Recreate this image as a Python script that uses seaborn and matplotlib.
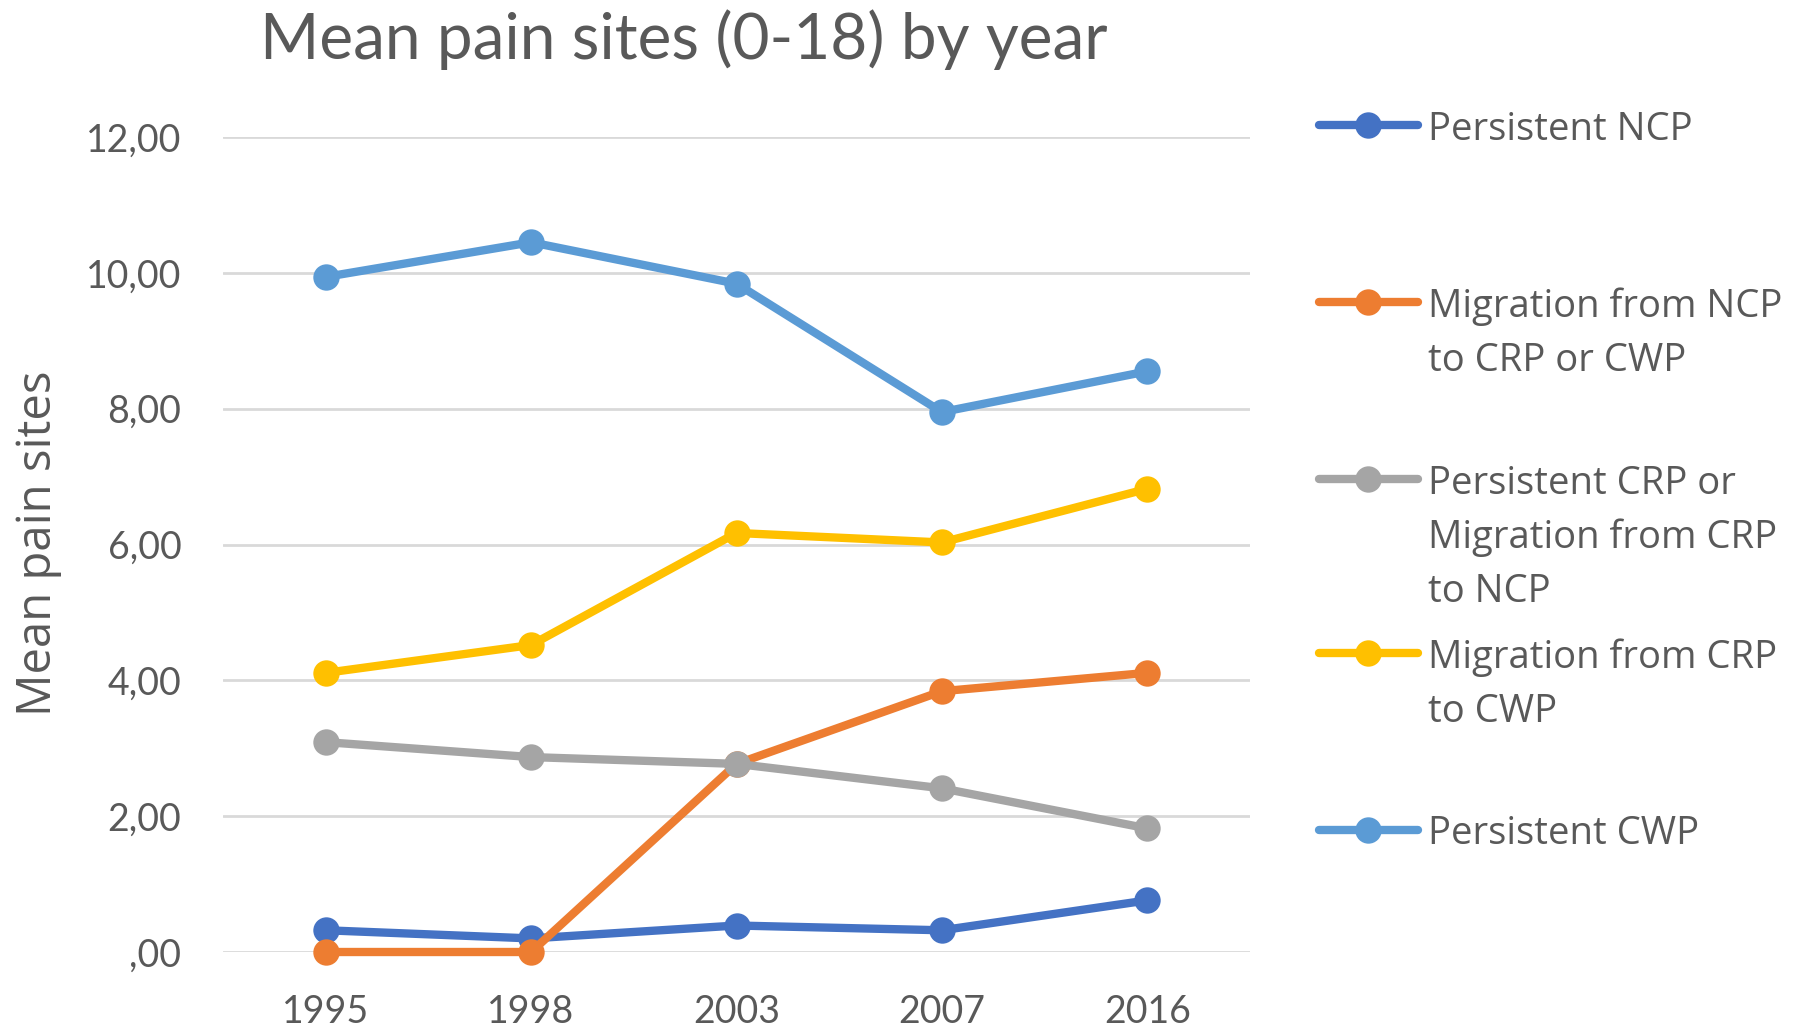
import matplotlib
matplotlib.use("Agg")
import matplotlib.pyplot as plt
from matplotlib.lines import Line2D
import seaborn as sns
import pandas as pd

years = ["1995", "1998", "2003", "2007", "2016"]
series_names = [
    "Persistent NCP",
    "Migration from NCP\nto CRP or CWP",
    "Persistent CRP or\nMigration from CRP\nto NCP",
    "Migration from CRP\nto CWP",
    "Persistent CWP",
]
persistent_ncp = [0.32, 0.20, 0.39, 0.32, 0.76]
migration_ncp = [0.00, 0.00, 2.77, 3.84, 4.11]
persistent_crp = [3.09, 2.87, 2.77, 2.41, 1.82]
migration_crp = [4.11, 4.52, 6.17, 6.03, 6.82]
persistent_cwp = [9.94, 10.45, 9.84, 7.95, 8.55]
colors = ["#4472C4", "#ED7D31", "#A5A5A5", "#FFC000", "#5B9BD5"]
y_ticks = [0, 2, 4, 6, 8, 10, 12]
y_tick_labels = [",00", "2,00", "4,00", "6,00", "8,00", "10,00", "12,00"]

all_values = [persistent_ncp, migration_ncp, persistent_crp, migration_crp, persistent_cwp]
rows = []
for name, vals in zip(series_names, all_values):
    for yr, v in zip(years, vals):
        rows.append({"year": yr, "value": v, "series": name})
df = pd.DataFrame(rows)

sns.set_theme(style="white")
plt.rcParams["font.family"] = ["Lato", "DejaVu Sans"]
text_color = "#595959"

W, H = 1810, 1030
fig = plt.figure(figsize=(W / 100, H / 100), dpi=100)
ax = fig.add_axes([223 / W, 1 - 952 / H, (1250 - 223) / W, (952 - 137) / H])

LW, MS = 6, 19
sns.lineplot(data=df, x="year", y="value", hue="series", hue_order=series_names,
             palette=colors, marker="o", markersize=MS, markeredgewidth=0,
             linewidth=LW, legend=False, sort=False, ax=ax)
for ln in ax.lines:
    ln.set_clip_on(False)
    ln.set_solid_capstyle("round")
    ln.set_solid_joinstyle("round")

ax.set_xlim(-0.5, 4.5)
ax.set_ylim(0, 12)
ax.set_yticks(y_ticks)
ax.set_yticklabels(y_tick_labels)
ax.yaxis.grid(True, color="#D9D9D9", linewidth=2.0)
ax.set_axisbelow(True)
for s in ax.spines.values():
    s.set_visible(False)
ax.tick_params(axis="y", length=0, pad=30, labelsize=27, labelcolor=text_color)
ax.tick_params(axis="x", length=0, pad=30, labelsize=27, labelcolor=text_color)
ax.set_xlabel("")
ax.set_ylabel("Mean pain sites", fontsize=34, color=text_color,
              family=["Open Sans", "DejaVu Sans"])
ax.yaxis.set_label_coords(-0.157, 0.502)

fig.text(684 / W, 1 - 40 / H, "Mean pain sites (0-18) by year", ha="center", va="center",
         fontsize=46, color=text_color, family=["Lato", "DejaVu Sans"])

# legend
handle_y = [125, 302, 479, 653, 830]
line_step = 54.5
for name, col, hy in zip(series_names, colors, handle_y):
    yf = 1 - hy / H
    fig.add_artist(Line2D([1319 / W, 1418 / W], [yf, yf], transform=fig.transFigure,
                          color=col, linewidth=LW, solid_capstyle="round"))
    fig.add_artist(Line2D([1368 / W], [yf], transform=fig.transFigure, color=col,
                          marker="o", markersize=MS, markeredgewidth=0, linestyle="none"))
    for i, part in enumerate(name.split("\n")):
        fig.text(1428 / W, 1 - (hy + i * line_step) / H, part, ha="left",
                 va="center_baseline", fontsize=27.5, color=text_color,
                 family=["Open Sans", "DejaVu Sans"])

fig.savefig("out.png", dpi=100, facecolor="white")
